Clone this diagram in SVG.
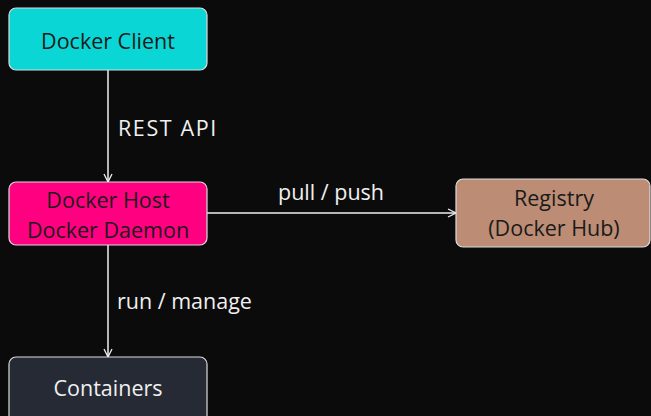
<svg xmlns="http://www.w3.org/2000/svg" width="651" height="416" viewBox="0 0 651 416">
<defs>
<marker id="ah" viewBox="0 0 10 10" refX="9" refY="5" markerWidth="10" markerHeight="10" markerUnits="userSpaceOnUse" orient="auto">
<path d="M1,1 L9,5 L1,9" fill="none" stroke="#f0f0f0" stroke-width="1.3"/>
</marker>
<style>
.box{stroke:#dcdcdc;stroke-width:1.2}
.t{font-family:"Open Sans","Liberation Sans",sans-serif;font-size:21.5px;text-anchor:middle;dominant-baseline:central}
.dk{fill:#1a1a1a}
.lt{fill:#f0f0f0}
.lbl{font-family:"Open Sans","Liberation Sans",sans-serif;font-size:21.5px;fill:#f0f0f0;dominant-baseline:central}
.c{stroke:#f0f0f0;stroke-width:1.5;fill:none;marker-end:url(#ah)}
</style>
</defs>
<rect width="651" height="416" fill="#0b0b0b"/>
<g id="connectors">
<line class="c" x1="108" y1="70" x2="108" y2="182"/>
<line class="c" x1="207" y1="213" x2="456" y2="213"/>
<line class="c" x1="108" y1="245" x2="108" y2="357"/>
<text class="lbl" x="118" y="127" letter-spacing="1.6">REST API</text>
<text class="lbl" x="331" y="191" text-anchor="middle">pull / push</text>
<text class="lbl" x="117" y="300">run / manage</text>
</g>
<g id="client">
<rect class="box" x="9" y="8" width="198" height="62" rx="7" fill="#0ad6d6"/>
<text class="t dk" x="108" y="40">Docker Client</text>
</g>
<g id="host">
<rect class="box" x="9" y="182" width="198" height="63" rx="7" fill="#ff0080"/>
<text class="t dk" x="108" y="199">Docker Host</text>
<text class="t dk" x="108" y="229">Docker Daemon</text>
</g>
<g id="registry">
<rect class="box" x="456" y="179" width="194" height="68" rx="7" fill="#bc8c74"/>
<text class="t dk" x="554" y="197">Registry</text>
<text class="t dk" x="554" y="227">(Docker Hub)</text>
</g>
<g id="containers">
<rect class="box" x="9" y="357" width="198" height="70" rx="7" fill="#262a35"/>
<text class="t lt" x="108" y="387">Containers</text>
</g>
</svg>
